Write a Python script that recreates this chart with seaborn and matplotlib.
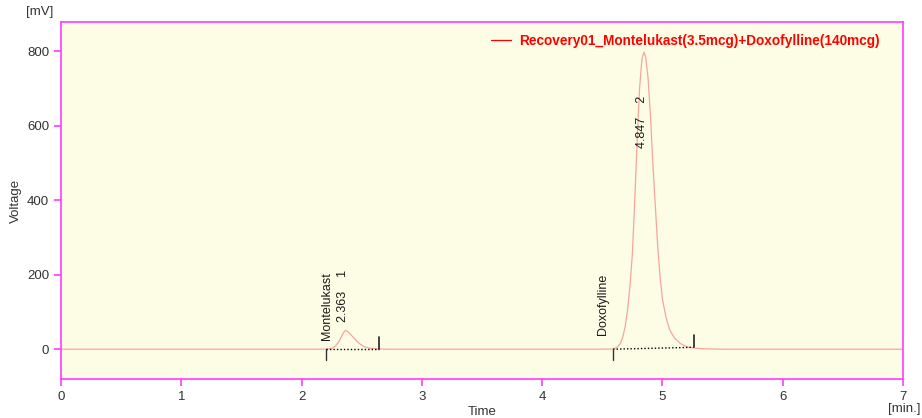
import matplotlib
matplotlib.use("Agg")
import matplotlib.pyplot as plt
import seaborn as sns
import pandas as pd
from matplotlib.lines import Line2D

# ---- data ----
time_min = [0.00, 1.00, 2.00, 2.20, 2.22, 2.25, 2.28, 2.31, 2.33, 2.35, 2.363, 2.38,
            2.40, 2.43, 2.46, 2.49, 2.52, 2.56, 2.62, 2.70, 3.50, 4.50, 4.59,
            4.62, 4.65, 4.67, 4.69, 4.71, 4.73, 4.75, 4.77, 4.79, 4.81, 4.83,
            4.847, 4.86, 4.88, 4.90, 4.92, 4.94, 4.96, 4.98, 5.00, 5.03, 5.06,
            5.10, 5.15, 5.20, 5.26, 5.35, 5.50, 6.00, 7.00]
voltage_mv = [0, 0, 0, 0, 0.5, 2, 8, 20, 33, 45, 50, 48,
              42, 32, 21, 13, 7, 3, 1, 0, 0, 0, 0.5,
              4, 15, 32, 60, 105, 170, 255, 400, 560, 700, 780,
              797, 785, 730, 630, 500, 390, 280, 195, 135, 85, 52,
              30, 15, 7, 3, 1, 0, 0, 0]

series_name = "Recovery01_Montelukast(3.5mcg)+Doxofylline(140mcg)"

peak_names = ["Montelukast", "Doxofylline"]
peak_rt = ["2.363", "4.847"]
peak_ids = ["1", "2"]
peak_start = [2.20, 4.59]
peak_end = [2.645, 5.26]
peak_end_level = [0, 5]
name_pos_t = [2.208, 4.508]
name_pos_v = [24, 37]
rt_pos_t = [2.347, 4.827]
rt_pos_v = [73, 540]

x_ticks = [0, 1, 2, 3, 4, 5, 6, 7]
y_ticks = [0, 200, 400, 600, 800]

# ---- plot ----
sns.set_theme(style="white")
plt.rcParams["font.family"] = ["Liberation Sans", "DejaVu Sans"]

fig = plt.figure(figsize=(9.22, 4.18), dpi=100)
ax = fig.add_axes([61 / 922, 1 - 379 / 418, 842 / 922, 357 / 418])
ax.set_facecolor("#fdfde6")

df = pd.DataFrame({"Time": time_min, "Voltage": voltage_mv})
sns.lineplot(data=df, x="Time", y="Voltage", ax=ax, color="#f7a59c",
             linewidth=0.9, estimator=None, sort=True)

# integration baselines and markers
for i in range(len(peak_names)):
    ax.plot([peak_start[i], peak_end[i]], [0, peak_end_level[i]], color="black",
            linestyle=(0, (1, 1.5)), linewidth=1.0)
    ax.plot([peak_start[i], peak_start[i]], [0, -30], color="#333333", linewidth=1.0)
    ax.plot([peak_end[i], peak_end[i]], [peak_end_level[i], peak_end_level[i] + 32],
            color="#222222", linewidth=1.2)
    ax.text(name_pos_t[i], name_pos_v[i], peak_names[i], rotation=90, ha="center",
            va="bottom", fontsize=9, color="#1a1a1a")
    ax.text(rt_pos_t[i], rt_pos_v[i], peak_rt[i] + "    " + peak_ids[i], rotation=90,
            ha="center", va="bottom", fontsize=9, color="#1a1a1a")

ax.set_xlim(0, 7)
ax.set_ylim(-80, 878)
ax.set_xticks(x_ticks)
ax.set_yticks(y_ticks)
ax.set_xlabel("Time", fontsize=9.5, color="#333333", labelpad=2)
ax.set_ylabel("Voltage", fontsize=9.5, color="#333333", labelpad=4)

mag = "#ff3cff"
for s in ax.spines.values():
    s.set_color(mag)
    s.set_linewidth(1.2)
ax.tick_params(axis="both", colors=mag, labelcolor="#333333", labelsize=9.5,
               direction="out", length=5, width=1.2, left=True, bottom=True)

fig.text(40 / 922, 1 - 12 / 418, "[mV]", fontsize=9.5, color="#333333",
         ha="center", va="center")
fig.text(904 / 922, 1 - 409 / 418, "[min.]", fontsize=9.5, color="#333333",
         ha="center", va="center")

handle = Line2D([0], [0], color="red", linewidth=0.9)
leg = ax.legend([handle], [series_name], loc="center right",
                bbox_to_anchor=(0.987, 0.947), frameon=False, handlelength=1.5,
                handletextpad=0.6, labelcolor="red",
                prop={"weight": "bold", "size": 9.8, "family": "Liberation Sans"})

fig.savefig("out.png", dpi=100, facecolor="white")
